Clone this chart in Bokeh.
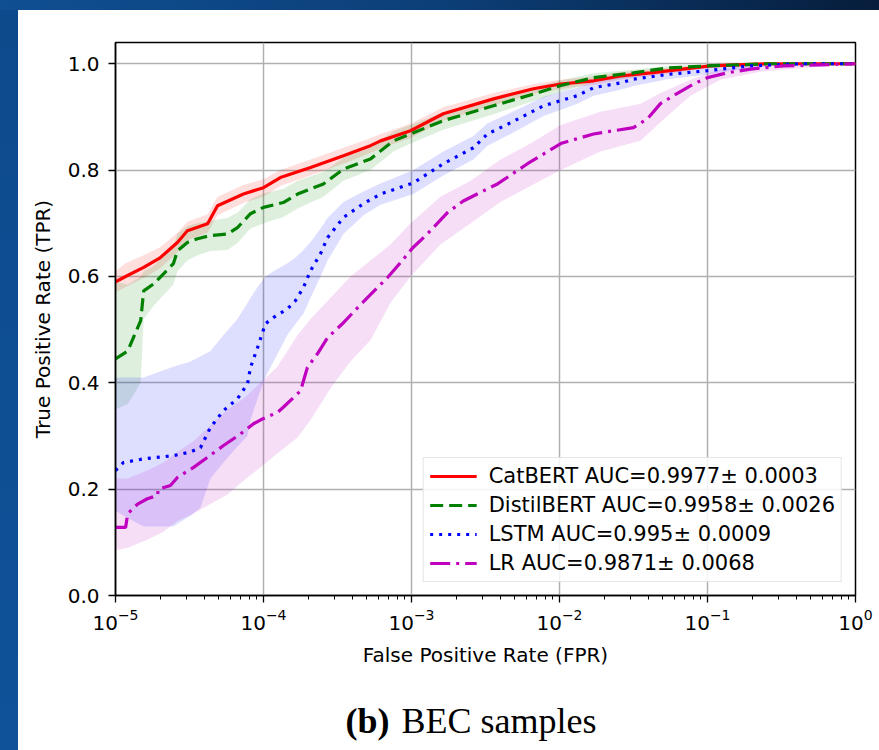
from bokeh.plotting import figure
from bokeh.layouts import column
from bokeh.models import (ColumnDataSource, FixedTicker, Legend, LegendItem,
                          PrintfTickFormatter, Range1d)
from bokeh.core.properties import value
from bokeh.embed import file_html
from bokeh.resources import INLINE

# ---------------- data ----------------
x_ticks = [1e-5, 1e-4, 1e-3, 1e-2, 1e-1, 1.0]
x_minor = [m * 10.0 ** e for e in range(-5, 0) for m in range(2, 10)]
y_ticks = [0.0, 0.2, 0.4, 0.6, 0.8, 1.0]

catbert_label = "CatBERT AUC=0.9977\u00b1 0.0003"
distil_label = "DistilBERT AUC=0.9958\u00b1 0.0026"
lstm_label = "LSTM AUC=0.995\u00b1 0.0009"
lr_label = "LR AUC=0.9871\u00b1 0.0068"

caption_bold = "(b)"
caption_text = "BEC samples"

catbert_fpr = [1e-5, 1.17e-5, 1.55e-5, 2.0e-5, 2.62e-5, 3.06e-5, 4.19e-5, 4.89e-5, 7.32e-5, 1e-4,
               1.30e-4, 2.08e-4, 3.47e-4, 5.28e-4, 6.18e-4, 9.85e-4, 1.64e-3, 3.58e-3, 6.67e-3,
               1.02e-2, 1.70e-2, 2.58e-2, 4.12e-2, 0.105, 0.254, 1.0]
catbert_tpr = [0.59, 0.60, 0.617, 0.635, 0.664, 0.686, 0.699, 0.733, 0.755, 0.767,
               0.786, 0.805, 0.827, 0.846, 0.855, 0.874, 0.906, 0.934, 0.953,
               0.962, 0.968, 0.977, 0.983, 0.996, 1.0, 1.0]
catbert_lo = [0.57, 0.58, 0.597, 0.615, 0.645, 0.668, 0.682, 0.715, 0.738, 0.75,
              0.77, 0.79, 0.812, 0.832, 0.841, 0.86, 0.893, 0.922, 0.943,
              0.953, 0.96, 0.97, 0.977, 0.993, 0.999, 1.0]
catbert_hi = [0.61, 0.625, 0.64, 0.655, 0.682, 0.703, 0.717, 0.75, 0.772, 0.783,
              0.80, 0.82, 0.842, 0.86, 0.868, 0.887, 0.918, 0.945, 0.962,
              0.970, 0.976, 0.984, 0.989, 0.999, 1.0, 1.0]

distil_fpr = [1e-5, 1.21e-5, 1.48e-5, 1.55e-5, 1.81e-5, 2.46e-5, 2.62e-5, 3.06e-5, 3.58e-5, 4.38e-5,
              5.71e-5, 6.67e-5, 8.17e-5, 1e-4, 1.36e-4, 1.70e-4, 2.54e-4, 3.47e-4, 5.28e-4, 7.55e-4,
              9.85e-4, 1.64e-3, 3.58e-3, 6.67e-3, 1.02e-2, 1.70e-2, 3.16e-2, 5.37e-2, 0.1, 0.254, 1.0]
distil_tpr = [0.445, 0.46, 0.517, 0.573, 0.586, 0.624, 0.648, 0.664, 0.671, 0.677,
              0.68, 0.692, 0.718, 0.73, 0.739, 0.755, 0.774, 0.802, 0.821, 0.855,
              0.868, 0.893, 0.921, 0.943, 0.959, 0.974, 0.983, 0.992, 0.996, 1.0, 1.0]
distil_lo = [0.35, 0.36, 0.40, 0.52, 0.545, 0.585, 0.61, 0.63, 0.64, 0.648,
             0.65, 0.663, 0.69, 0.70, 0.712, 0.728, 0.75, 0.78, 0.80, 0.835,
             0.85, 0.876, 0.905, 0.93, 0.947, 0.965, 0.976, 0.987, 0.993, 1.0, 1.0]
distil_hi = [0.59, 0.585, 0.60, 0.61, 0.62, 0.655, 0.68, 0.695, 0.70, 0.705,
             0.71, 0.72, 0.745, 0.756, 0.765, 0.78, 0.797, 0.823, 0.842, 0.873,
             0.885, 0.909, 0.935, 0.955, 0.969, 0.982, 0.989, 0.996, 0.999, 1.0, 1.0]

lstm_fpr = [1e-5, 1.13e-5, 1.55e-5, 2.46e-5, 3.21e-5, 3.75e-5, 4.38e-5, 5.37e-5, 6.67e-5, 7.80e-5,
            8.17e-5, 9.11e-5, 1.03e-4, 1.17e-4, 1.45e-4, 1.64e-4, 1.86e-4, 2.08e-4, 2.43e-4, 2.71e-4,
            3.47e-4, 4.74e-4, 6.18e-4, 1.03e-3, 1.64e-3, 2.62e-3, 3.26e-3, 4.67e-3, 7.80e-3, 1.32e-2,
            1.70e-2, 2.58e-2, 3.16e-2, 5.37e-2, 0.1, 0.195, 0.425, 1.0]
lstm_tpr = [0.235, 0.25, 0.257, 0.263, 0.27, 0.278, 0.316, 0.348, 0.37, 0.398,
            0.429, 0.466, 0.511, 0.523, 0.539, 0.554, 0.579, 0.611, 0.643, 0.673,
            0.711, 0.737, 0.755, 0.776, 0.812, 0.842, 0.868, 0.889, 0.921, 0.94,
            0.955, 0.964, 0.971, 0.98, 0.987, 0.996, 1.0, 1.0]
lstm_lo = [0.16, 0.15, 0.13, 0.13, 0.15, 0.165, 0.22, 0.25, 0.28, 0.30,
           0.33, 0.37, 0.41, 0.44, 0.49, 0.51, 0.53, 0.56, 0.60, 0.63,
           0.68, 0.715, 0.735, 0.755, 0.79, 0.82, 0.846, 0.868, 0.902, 0.925,
           0.94, 0.951, 0.958, 0.971, 0.98, 0.992, 1.0, 1.0]
lstm_hi = [0.41, 0.41, 0.41, 0.43, 0.44, 0.45, 0.46, 0.49, 0.52, 0.55,
           0.56, 0.58, 0.60, 0.61, 0.625, 0.635, 0.65, 0.665, 0.69, 0.71,
           0.74, 0.76, 0.775, 0.80, 0.835, 0.864, 0.888, 0.908, 0.938, 0.955,
           0.967, 0.975, 0.981, 0.988, 0.993, 0.999, 1.0, 1.0]

lr_fpr = [1e-5, 1.17e-5, 1.21e-5, 1.41e-5, 1.64e-5, 1.92e-5, 1.95e-5, 2.35e-5, 2.62e-5, 3.37e-5,
          4.19e-5, 5.37e-5, 7.0e-5, 8.56e-5, 1e-4, 1.24e-4, 1.36e-4, 1.78e-4, 1.98e-4, 2.32e-4,
          2.71e-4, 3.47e-4, 4.32e-4, 5.04e-4, 6.89e-4, 8.43e-4, 1.02e-3, 1.28e-3, 1.75e-3, 2.24e-3,
          3.06e-3, 3.81e-3, 6.08e-3, 1.02e-2, 1.70e-2, 3.16e-2, 3.94e-2, 4.81e-2, 5.89e-2, 8.04e-2,
          0.1, 0.136, 0.195, 0.327, 1.0]
lr_tpr = [0.128, 0.128, 0.154, 0.172, 0.182, 0.188, 0.20, 0.207, 0.222, 0.241,
          0.26, 0.282, 0.304, 0.323, 0.333, 0.344, 0.354, 0.385, 0.429, 0.455,
          0.485, 0.513, 0.541, 0.56, 0.598, 0.626, 0.654, 0.68, 0.72, 0.742,
          0.761, 0.774, 0.812, 0.85, 0.868, 0.88, 0.897, 0.925, 0.94, 0.962,
          0.974, 0.983, 0.99, 0.996, 1.0]

lr_band_fpr = [1e-5, 1.21e-5, 1.64e-5, 2.11e-5, 2.62e-5, 3.37e-5, 4.38e-5, 5.71e-5, 7.32e-5, 9.55e-5,
               1.24e-4, 1.70e-4, 2.08e-4, 2.84e-4, 3.87e-4, 5.28e-4, 7.21e-4, 9.85e-4, 1.57e-3, 2.51e-3,
               3.99e-3, 6.37e-3, 1.02e-2, 1.89e-2, 3.53e-2, 4.81e-2, 7.67e-2, 0.122, 0.228, 1.0]
lr_lo = [0.085, 0.09, 0.105, 0.12, 0.14, 0.154, 0.172, 0.19, 0.216, 0.241,
         0.267, 0.297, 0.33, 0.39, 0.44, 0.48, 0.55, 0.60, 0.66, 0.70,
         0.74, 0.77, 0.80, 0.835, 0.855, 0.89, 0.94, 0.97, 0.985, 1.0]
lr_hi = [0.22, 0.22, 0.235, 0.25, 0.27, 0.29, 0.32, 0.35, 0.37, 0.40,
         0.43, 0.49, 0.52, 0.56, 0.60, 0.63, 0.66, 0.70, 0.75, 0.78,
         0.82, 0.85, 0.885, 0.91, 0.925, 0.945, 0.97, 0.99, 0.998, 1.0]

# ---------------- main figure ----------------
FONT = "DejaVu Sans"

p = figure(width=861, height=670, x_axis_type="log", x_range=(1e-5, 1.0), y_range=(0.0, 1.04),
           output_backend="svg", toolbar_location=None,
           min_border_left=97, min_border_right=24, min_border_top=32, min_border_bottom=85)
p.background_fill_color = "white"
p.border_fill_color = "white"
p.outline_line_color = "black"
p.outline_line_width = 1.5
p.outline_line_alpha = 1.0

p.xaxis.ticker = FixedTicker(ticks=x_ticks, minor_ticks=x_minor)
p.yaxis.ticker = FixedTicker(ticks=y_ticks)
p.yaxis.formatter = PrintfTickFormatter(format="%.1f")

for ax in (p.xaxis, p.yaxis):
    ax.axis_line_color = "black"
    ax.axis_line_width = 1.5
    ax.major_tick_line_color = "black"
    ax.major_tick_line_width = 1.3
    ax.major_tick_out = 7
    ax.major_tick_in = 0
    ax.minor_tick_line_color = "black"
    ax.minor_tick_line_width = 1.0
    ax.minor_tick_in = 0
    ax.major_label_text_font = FONT
    ax.major_label_text_font_size = "20px"
    ax.major_label_text_color = "black"
    ax.axis_label_text_font = FONT
    ax.axis_label_text_font_size = "20px"
    ax.axis_label_text_font_style = "normal"
    ax.axis_label_text_color = "black"

p.xaxis.minor_tick_out = 4
p.yaxis.minor_tick_out = 0
p.xaxis.major_label_standoff = 6
p.yaxis.major_label_standoff = 9
p.xaxis.axis_label = "False Positive Rate (FPR)"
p.yaxis.axis_label = "True Positive Rate (TPR)"
p.xaxis.axis_label_standoff = 10
p.yaxis.axis_label_standoff = 10

p.xgrid.grid_line_color = "#b0b0b0"
p.ygrid.grid_line_color = "#b0b0b0"
p.xgrid.grid_line_width = 1.5
p.ygrid.grid_line_width = 1.5

series = [
    (catbert_fpr, catbert_tpr, catbert_fpr, catbert_lo, catbert_hi, "#ff0000", None, catbert_label),
    (distil_fpr, distil_tpr, distil_fpr, distil_lo, distil_hi, "#008000", "13 6", distil_label),
    (lstm_fpr, lstm_tpr, lstm_fpr, lstm_lo, lstm_hi, "#0000ff", "3 6", lstm_label),
    (lr_fpr, lr_tpr, lr_band_fpr, lr_lo, lr_hi, "#bf00bf", "20 6 3 6", lr_label),
]

for fx, fy, bx, blo, bhi, col, dash, lab in series:
    band = ColumnDataSource(dict(x=bx, lo=blo, hi=bhi))
    p.varea(x="x", y1="lo", y2="hi", source=band, fill_color=col, fill_alpha=0.13)

items = []
for fx, fy, bx, blo, bhi, col, dash, lab in series:
    src = ColumnDataSource(dict(x=fx, y=fy))
    kw = dict(line_color=col, line_width=3.2)
    if dash:
        kw["line_dash"] = dash
    r = p.line(x="x", y="y", source=src, **kw)
    items.append(LegendItem(label=lab, renderers=[r]))

legend = Legend(items=items, location="bottom_right")
legend.label_text_font = FONT
legend.label_text_font_size = "21px"
legend.label_text_color = "black"
legend.glyph_width = 47
legend.glyph_height = 20
legend.label_height = 20
legend.spacing = 5
legend.padding = 6
legend.label_standoff = 12
legend.margin = 13
legend.border_line_color = "#cccccc"
legend.border_line_width = 1.5
legend.background_fill_color = "white"
legend.background_fill_alpha = 0.85
p.add_layout(legend)

# ---------------- caption strip (SVG text) ----------------
cap = figure(width=861, height=70, x_range=Range1d(0, 740), y_range=Range1d(0, 70),
             output_backend="svg", toolbar_location=None,
             min_border_left=97, min_border_right=24, min_border_top=0, min_border_bottom=0)
cap.axis.visible = False
cap.grid.visible = False
cap.outline_line_color = None
cap.background_fill_color = "white"
cap.border_fill_color = "white"
cap.text(x=[230], y=[30], text=[caption_bold], text_baseline="alphabetic", text_align="left",
         text_font=value("Liberation Serif"), text_font_style="bold", text_font_size="36px",
         text_color="black")
cap.text(x=[286], y=[30], text=[caption_text], text_baseline="alphabetic", text_align="left",
         text_font=value("Liberation Serif"), text_font_style="normal", text_font_size="36px",
         text_color="black")

layout = column(p, cap, spacing=0, margin=(10, 0, 0, 18))

html = file_html(layout, INLINE, title="ROC curves")
style = ("<style>html{background:"
         "linear-gradient(to right,#0f4f92 0%,#0c3f78 50%,#071d3b 100%) 0 0/100% 10px no-repeat,"
         "linear-gradient(to bottom,#0d4a8c,#0f5299) 0 0/18px 100% no-repeat,"
         "#ffffff;}"
         "body{margin:0;padding:0;overflow:hidden;background:transparent;}</style>")
html = html.replace("</head>", style + "</head>", 1)
open("out.html", "w").write(html)
